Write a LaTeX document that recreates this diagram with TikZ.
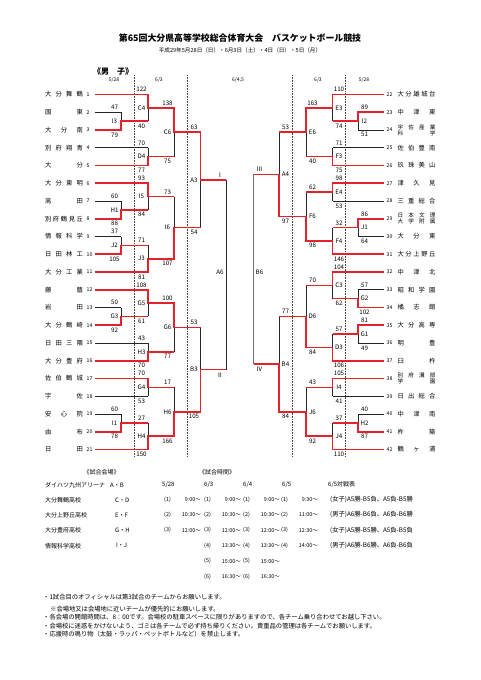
\documentclass[tikz,border=0pt]{standalone}
\usepackage{fontspec}
\setmainfont{Noto Sans CJK JP}
\usepackage{tikz}
\definecolor{bred}{HTML}{E3222B}

\begin{document}
\begin{tikzpicture}[x=1pt,y=-1pt,
 ln/.style={black!85,line width=0.6pt},
 win/.style={bred,line width=1.6pt},
 lbl/.style={font=\fontsize{6.2}{6.5}\selectfont,inner sep=0pt},
 tname/.style={font=\fontsize{6.3}{7}\selectfont,inner sep=0pt},
 tnum/.style={font=\fontsize{5.2}{6}\selectfont,inner sep=0pt,anchor=west},
 txt/.style={font=\fontsize{6}{7}\selectfont,inner sep=0pt,anchor=west}]
\fill[white](0,0)rectangle(481,680);
\useasboundingbox(0,0)rectangle(481,680);
% heading
\node[font=\fontsize{8.9}{10}\selectfont\bfseries](title)at(240,38.5){第65回大分県高等学校総合体育大会　バスケットボール競技};
\node[font=\fontsize{5.6}{6}\selectfont](sub)at(240,50){平成29年5月28日（日）・6月3日（土）・4日（日）・5日（月）};
\node[font=\fontsize{8}{9}\selectfont\bfseries](boys)at(113,71){《男　子》};
\node[lbl,font=\fontsize{5}{6}\selectfont](d1)at(114,79.5){5/28};
\node[lbl,font=\fontsize{5}{6}\selectfont](d2)at(159,79.5){6/3};
\node[lbl,font=\fontsize{5}{6}\selectfont](d3)at(238,79.5){6/4,5};
\node[lbl,font=\fontsize{5}{6}\selectfont](d4)at(318,79.5){6/3};
\node[lbl,font=\fontsize{5}{6}\selectfont](d5)at(364,79.5){5/28};
\foreach\x in{134.3,187.3,292.5,345.5}
  \draw[black!75,densely dotted,line width=0.6pt](\x,75)--(\x,457);
% teams
\foreach\nm[count=\i]in{大 分 舞 鶴,国 東,大 分 南,別 府 翔 青,大 分,大 分 東 明,高 田,別 府 鶴 見 丘,情 報 科 学,日 田 林 工,大 分 工 業,藤 蔭,岩 田,大 分 鶴 崎,日 田 三 隈,大 分 豊 府,佐 伯 鶴 城,宇 佐,安 心 院,由 布,日 田}{
  \node[tname](t\i)at(64,{94.5+(\i-1)*17.75}){\makebox[38pt][s]{\nm}};
  \node[tnum](n\i)at(86.5,{94.5+(\i-1)*17.75}){\i};
}
\foreach\nm[count=\i from 22]in{大 分 雄 城 台,中 津 東,{},佐 伯 豊 南,玖 珠 美 山,津 久 見,三 重 総 合,{},大 分 東,大 分 上 野 丘,中 津 北,昭 和 学 園,橘 志 館,大 分 高 専,明 豊,臼 杵,{},日 出 総 合,中 津 南,杵 築,鶴 ヶ 浦}{
  \node[tname](t\i)at(416.5,{94.5+(\i-22)*17.75}){\makebox[38pt][s]{\nm}};
  \node[tnum](n\i)at(386.5,{94.5+(\i-22)*17.75}){\i};
}
\node[tname,font=\fontsize{5.6}{6.2}\selectfont,align=center](t24)at(416.5,130){\makebox[38pt][s]{宇 佐 産 業}\\\makebox[38pt][s]{科 学}};
\node[tname,font=\fontsize{5.6}{6.2}\selectfont,align=center](t29)at(416.5,218.75){\makebox[38pt][s]{日 本 文 理}\\\makebox[38pt][s]{大 学 附 属}};
\node[tname,font=\fontsize{5.6}{6.2}\selectfont,align=center](t38)at(416.5,378.5){\makebox[38pt][s]{別 府 溝 部}\\\makebox[38pt][s]{学 園}};
% bracket lines
\foreach\i in{1,4,5,6,11,12,15,16,17,18,21}\draw[ln](95,{94.5+(\i-1)*17.75})--(148,{94.5+(\i-1)*17.75});
\foreach\i in{2,3,7,8,9,10,13,14,19,20}\draw[ln](95,{94.5+(\i-1)*17.75})--(121,{94.5+(\i-1)*17.75});
\foreach\i in{22,25,26,27,28,31,32,37,38,39,42}\draw[ln](384,{94.5+(\i-22)*17.75})--(332.5,{94.5+(\i-22)*17.75});
\foreach\i in{23,24,29,30,33,34,35,36,40,41}\draw[ln](384,{94.5+(\i-22)*17.75})--(358,{94.5+(\i-22)*17.75});
\foreach\x/\ya/\yb in{121/112.25/130,148/94.5/121.1,148/147.75/165.5,174/107.8/156.6,121/201/218.75,148/183.25/209.9,121/236.5/254.25,148/245.4/272,174/196.6/258.7,200.5/132.2/227.6,121/307.5/325.25,148/289.75/316.4,148/343/360.75,174/303.1/351.9,148/378.5/396.25,121/414/431.75,148/422.9/449.5,174/387.4/436.2,200.5/327.5/411.8,226/179.9/369.6,
  358/112.25/130,332.5/94.5/121.1,332.5/147.75/165.5,306/107.8/156.6,332.5/183.25/201,358/218.75/236.5,332.5/227.6/254.25,306/192.1/240.9,279/132.2/216.5,358/289.75/307.5,332.5/272/298.6,358/325.25/343,332.5/334.1/360.75,306/285.3/347.4,332.5/378.5/396.25,358/414/431.75,332.5/422.9/449.5,306/387.4/436.2,279/316.4/411.8}
  \draw[ln](\x,\ya)--(\x,\yb);
\draw[black!55,line width=1.1pt](253.5,174.4)--(253.5,364.1);
% winners
\draw[win](95,94.5)-|(148,107.8)-|(174,132.2)-|(200.5,179.9)--(226,179.9);
\draw[win](95,130)-|(121,121.1)--(148,121.1);
\draw[win](95,165.5)-|(148,156.6)--(174,156.6);
\draw[win](95,183.25)-|(148,196.6)--(174,196.6);
\draw[win](95,218.75)-|(121,209.9)--(148,209.9);
\draw[win](95,254.25)-|(121,245.4)--(148,245.4);
\draw[win](95,272)-|(148,258.7)-|(174,227.6)--(200.5,227.6);
\draw[win](95,289.75)-|(148,303.1)-|(174,327.5)--(200.5,327.5);
\draw[win](95,325.25)-|(121,316.4)--(148,316.4);
\draw[win](95,360.75)-|(148,351.9)--(174,351.9);
\draw[win](95,378.5)-|(148,387.4)--(174,387.4);
\draw[win](95,431.75)-|(121,422.9)--(148,422.9);
\draw[win](95,449.5)-|(148,436.2)-|(174,411.8)-|(200.5,369.6)--(226,369.6);
\draw[win](384,94.5)-|(332.5,107.8)-|(306,132.2)--(279,132.2);
\draw[win](384,112.25)-|(358,121.1)--(332.5,121.1);
\draw[win](384,165.5)-|(332.5,156.6)--(306,156.6);
\draw[win](384,183.25)-|(332.5,192.1)--(306,192.1);
\draw[win](384,218.75)-|(358,227.6)--(332.5,227.6);
\draw[win](384,254.25)-|(332.5,240.9)-|(306,216.5)-|(279,174.4)--(253.5,174.4);
\draw[win](384,272)-|(332.5,285.3)--(306,285.3);
\draw[win](384,307.5)-|(358,298.6)--(332.5,298.6);
\draw[win](384,325.25)-|(358,334.1)--(332.5,334.1);
\draw[win](384,360.75)-|(332.5,347.4)-|(306,316.4)--(279,316.4);
\draw[win](384,378.5)-|(332.5,387.4)--(306,387.4);
\draw[win](384,431.75)-|(358,422.9)--(332.5,422.9);
\draw[win](384,449.5)-|(332.5,436.2)-|(306,411.8)-|(279,364.1)--(253.5,364.1);
% game codes and scores
\foreach\x/\ya/\yb/\g/\p/\q in{114.5/112.25/130/I3/47/79,141.5/94.5/121.1/C4/122/40,141.5/147.75/165.5/D4/70/77,167.5/107.8/156.6/C6/138/75,114.5/201/218.75/H1/60/88,141.5/183.25/209.9/I5/93/84,114.5/236.5/254.25/J2/37/105,141.5/245.4/272/J3/71/81,167.5/196.6/258.7/I6/73/107,194/132.2/227.6/A3/63/54,114.5/307.5/325.25/G3/50/92,141.5/289.75/316.4/G5/108/61,141.5/343/360.75/H3/43/70,167.5/303.1/351.9/G6/100/77,141.5/378.5/396.25/G4/70/53,114.5/414/431.75/I1/60/78,141.5/422.9/449.5/H4/27/150,167.5/387.4/436.2/H6/17/166,194/327.5/411.8/B3/53/105,
  364.5/112.25/130/I2/89/51,339/94.5/121.1/E3/110/74,339/147.75/165.5/F3/71/75,312.5/107.8/156.6/E6/163/40,339/183.25/201/E4/98/53,364.5/218.75/236.5/J1/86/64,339/227.6/254.25/F4/32/146,312.5/192.1/240.9/F6/62/98,285.5/132.2/216.5/A4/53/97,364.5/289.75/307.5/G2/57/102,339/272/298.6/C3/104/62,364.5/325.25/343/G1/81/49,339/334.1/360.75/D3/57/106,312.5/285.3/347.4/D6/70/84,339/378.5/396.25/I4/105/41,364.5/414/431.75/H2/40/87,339/422.9/449.5/J4/37/110,312.5/387.4/436.2/J6/43/92,285.5/316.4/411.8/B4/77/84}{
  \node[lbl](\g)at(\x,{(\ya+\yb)/2}){\g};
  \node[lbl](\g a)at(\x,{\ya-4.8}){\p};
  \node[lbl](\g b)at(\x,{\yb+4.8}){\q};
}
\node[lbl](A6)at(220,272){A6};
\node[lbl](B6)at(259.5,272){B6};
\node[lbl](r1)at(220,175){Ⅰ};
\node[lbl](r2)at(220,375){Ⅱ};
\node[lbl](r3)at(259.5,169.5){Ⅲ};
\node[lbl](r4)at(259.5,369.5){Ⅳ};
% venues and times
\node[txt,anchor=center](venue)at(101.7,472){《試合会場》};
\node[txt,anchor=center](times)at(217,472){《試合時間》};
\foreach\v/\c/\cx[count=\r]in{ダイハツ九州アリーナ/A・B/110,大分舞鶴高校/C・D/115,大分上野丘高校/E・F/115,大分豊府高校/G・H/115,情報科学高校/I・J/116}{
  \node[txt](v\r)at(45,{485+(\r-1)*15.2}){\v};
  \node[txt](c\r)at(\cx,{485+(\r-1)*15.2}){\c};
}
\node[txt](h1)at(162,485){5/28};
\node[txt](h2)at(204,485){6/3};
\node[txt](h3)at(243,485){6/4};
\node[txt](h4)at(282,485){6/5};
\node[txt](h5)at(328,485){6/5対戦表};
\foreach\x/\tl in{164/{9:00,10:30,12:00},204/{9:00,10:30,12:00,13:30,15:00,16:30},243/{9:00,10:30,12:00,13:30,15:00,16:30},281/{9:30,11:00,12:30,14:00}}
  \foreach\tm[count=\r]in\tl{
    \node[txt,font=\fontsize{5.4}{6}\selectfont](s\x\r)at(\x,{499.5+(\r-1)*15.4}){(\r)};
    \node[txt,font=\fontsize{5.4}{6}\selectfont,anchor=east](e\x\r)at({\x+37},{499.5+(\r-1)*15.4}){\tm～};
  }
\foreach\m[count=\r]in{(女子)A5勝-B5負、A5負-B5勝,(男子)A6勝-B6負、A6負-B6勝,(女子)A5勝-B5勝、A5負-B5負,(男子)A6勝-B6勝、A6負-B6負}
  \node[txt,font=\fontsize{6.3}{7}\selectfont](m\r)at(330,{499.5+(\r-1)*15.4}){\m};
% notes
\node[txt,font=\fontsize{6.3}{7}\selectfont](note1)at(43,597){・1試合目のオフィシャルは第3試合のチームからお願いします。};
\node[txt,font=\fontsize{6.3}{7}\selectfont](note2)at(50,609){※会場地又は会場地に近いチームが優先的にお願いします。};
\node[txt,font=\fontsize{6.3}{7}\selectfont](note3)at(43,617.5){・各会場の開館時間は、8：00です。会場校の駐車スペースに限りがありますので、各チーム乗り合わせてお越し下さい。};
\node[txt,font=\fontsize{6.3}{7}\selectfont](note4)at(43,626){・会場校に迷惑をかけないよう、ゴミは各チームで必ず持ち帰りください。貴重品の管理は各チームでお願いします。};
\node[txt,font=\fontsize{6.3}{7}\selectfont](note5)at(43,634.5){・応援時の鳴り物（太鼓・ラッパ・ペットボトルなど）を禁止します。};
\end{tikzpicture}
\end{document}
